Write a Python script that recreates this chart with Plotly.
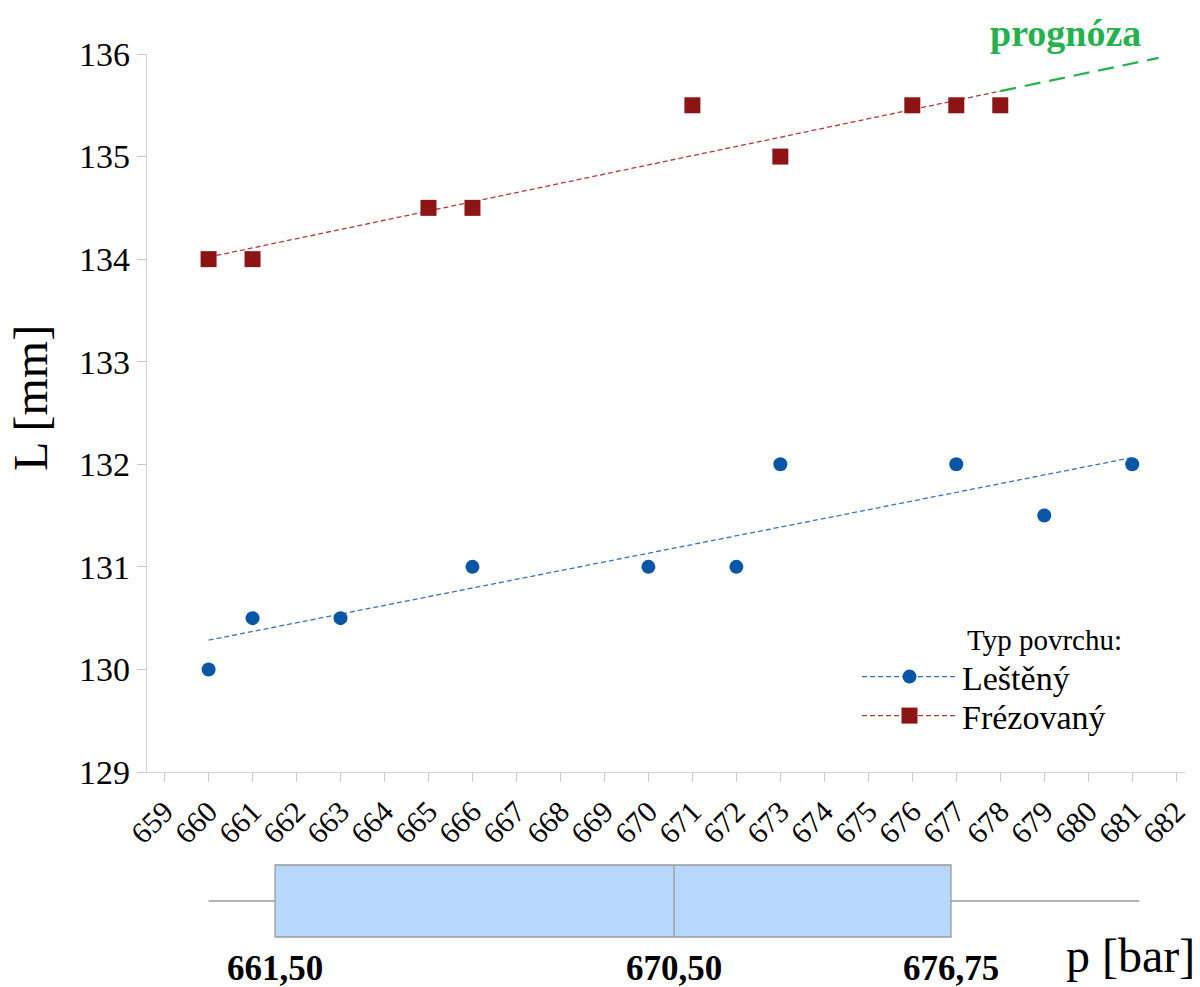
import numpy as np
import plotly.graph_objects as go

# ---- data ----
lesteny_p = [660, 661, 663, 666, 670, 672, 673, 677, 679, 681]
lesteny_L = [130.0, 130.5, 130.5, 131.0, 131.0, 131.0, 132.0, 132.0, 131.5, 132.0]
frez_p = [660, 661, 665, 666, 671, 673, 676, 677, 678]
frez_L = [134.0, 134.0, 134.5, 134.5, 135.5, 135.0, 135.5, 135.5, 135.5]
forecast_p = [678, 681.6]
x_ticks = list(range(659, 683))
y_ticks = [129, 130, 131, 132, 133, 134, 135, 136]
# box summary of p [bar]: lower whisker, Q1, median, Q3, upper whisker
box_stats = [660, 661.5, 670.5, 676.75, 681]
box_labels = ["661,50", "670,50", "676,75"]

BLUE = "#0a56a6"
RED = "#8c1414"
GREEN = "#25b24e"
SERIF = "Liberation Serif"

W, H = 1200, 987
ML, MR, MT, MB = 147, 15, 54, 5
PW, PH = W - ML - MR, H - MT - MB


def px(xp):
    return (xp - ML) / PW


def py(yp):
    return (H - MB - yp) / PH


fit_b = np.polyfit(lesteny_p, lesteny_L, 1)
fit_r = np.polyfit(frez_p, frez_L, 1)
tb_x = [min(lesteny_p), max(lesteny_p)]
tr_x = [min(frez_p), max(frez_p)]

fig = go.Figure()

# trend lines
fig.add_trace(go.Scatter(x=tb_x, y=np.polyval(fit_b, tb_x), mode="lines",
                         line=dict(color="#3a72b8", width=1.3, dash="5px,3px"),
                         showlegend=False, hoverinfo="skip"))
fig.add_trace(go.Scatter(x=tr_x, y=np.polyval(fit_r, tr_x), mode="lines",
                         line=dict(color="#b03a3a", width=1.3, dash="5px,3px"),
                         showlegend=False, hoverinfo="skip"))
# forecast
fig.add_trace(go.Scatter(x=forecast_p, y=np.polyval(fit_r, forecast_p), mode="lines",
                         line=dict(color=GREEN, width=2.2, dash="16px,9px"),
                         showlegend=False, hoverinfo="skip"))
# points
fig.add_trace(go.Scatter(x=lesteny_p, y=lesteny_L, mode="markers",
                         marker=dict(symbol="circle", size=14, color=BLUE),
                         showlegend=False))
fig.add_trace(go.Scatter(x=frez_p, y=frez_L, mode="markers",
                         marker=dict(symbol="square", size=16, color=RED),
                         showlegend=False))
# legend entries
fig.add_trace(go.Scatter(x=[None], y=[None], mode="lines+markers", name="Leštěný",
                         line=dict(color="#3a72b8", width=1.3, dash="5px,3px"),
                         marker=dict(symbol="circle", size=14, color=BLUE),
                         legend="legend"))
fig.add_trace(go.Scatter(x=[None], y=[None], mode="lines+markers", name="Frézovaný",
                         line=dict(color="#b03a3a", width=1.3, dash="5px,3px"),
                         marker=dict(symbol="square", size=16, color=RED),
                         legend="legend2"))

# box plot
fig.add_trace(go.Box(
    y=[0], orientation="h",
    lowerfence=[box_stats[0]], q1=[box_stats[1]], median=[box_stats[2]],
    q3=[box_stats[3]], upperfence=[box_stats[4]],
    xaxis="x2", yaxis="y2", width=0.8, whiskerwidth=0,
    fillcolor="#b7d8fc", line=dict(color="#9a9a9a", width=1.3),
    showlegend=False, hoverinfo="skip"))

xr = [658.6, 682.2]
xr_box = [658.61, 682.03]
leg_common = dict(xanchor="left", yanchor="middle", bgcolor="rgba(0,0,0,0)",
                  font=dict(family=SERIF, size=34, color="black"), itemwidth=95)
fig.update_layout(
    width=W, height=H,
    margin=dict(l=ML, r=MR, t=MT, b=MB, autoexpand=False),
    paper_bgcolor="white", plot_bgcolor="white",
    font=dict(family=SERIF, color="black"),
    xaxis=dict(range=xr, domain=[0, 1], tickmode="array", tickvals=x_ticks,
               ticktext=[str(v) for v in x_ticks], tickangle=-45,
               tickfont=dict(family=SERIF, size=30, color="black"),
               ticks="outside", ticklen=9, tickcolor="#c8c8c8",
               showline=True, linecolor="#d0d0d0", linewidth=1.3,
               showgrid=False, zeroline=False, anchor="y", automargin=False),
    yaxis=dict(range=[129, 136], domain=[py(772), 1], tickvals=y_ticks,
               tickfont=dict(family=SERIF, size=34, color="black"),
               ticks="outside", ticklen=9, tickcolor="#c8c8c8",
               showline=True, linecolor="#d0d0d0", linewidth=1.3,
               showgrid=False, zeroline=False, anchor="x", automargin=False),
    xaxis2=dict(range=xr_box, domain=[0, 1], anchor="y2", visible=False),
    yaxis2=dict(range=[-0.5, 0.5], domain=[py(946), py(856)], anchor="x2",
                visible=False),
    legend=dict(x=px(857), y=py(677), **leg_common),
    legend2=dict(x=px(857), y=py(716), **leg_common),
    showlegend=True,
)

ann = [
    dict(text="<b>prognóza</b>", x=px(1065), y=py(33), xref="paper", yref="paper",
         showarrow=False, font=dict(family=SERIF, size=38, color=GREEN),
         xanchor="center", yanchor="middle"),
    dict(text="L [mm]", x=px(30), y=py(398), xref="paper", yref="paper",
         showarrow=False, textangle=-90, font=dict(family=SERIF, size=48),
         xanchor="center", yanchor="middle"),
    dict(text="p [bar]", x=px(1130), y=py(955), xref="paper", yref="paper",
         showarrow=False, font=dict(family=SERIF, size=48),
         xanchor="center", yanchor="middle"),
    dict(text="Typ povrchu:", x=px(965), y=py(640), xref="paper", yref="paper",
         showarrow=False, font=dict(family=SERIF, size=29),
         xanchor="left", yanchor="middle"),
]
for v, t in zip(box_stats[1:4], box_labels):
    ann.append(dict(text="<b>" + t + "</b>", x=v, y=py(968), xref="x2", yref="paper",
                    showarrow=False, font=dict(family=SERIF, size=35),
                    xanchor="center", yanchor="middle"))
fig.update_layout(annotations=ann)

fig.write_html("out.html", config={"displayModeBar": False},
               post_script="document.body.style.margin='0';"
                           "document.body.style.overflow='hidden';")
